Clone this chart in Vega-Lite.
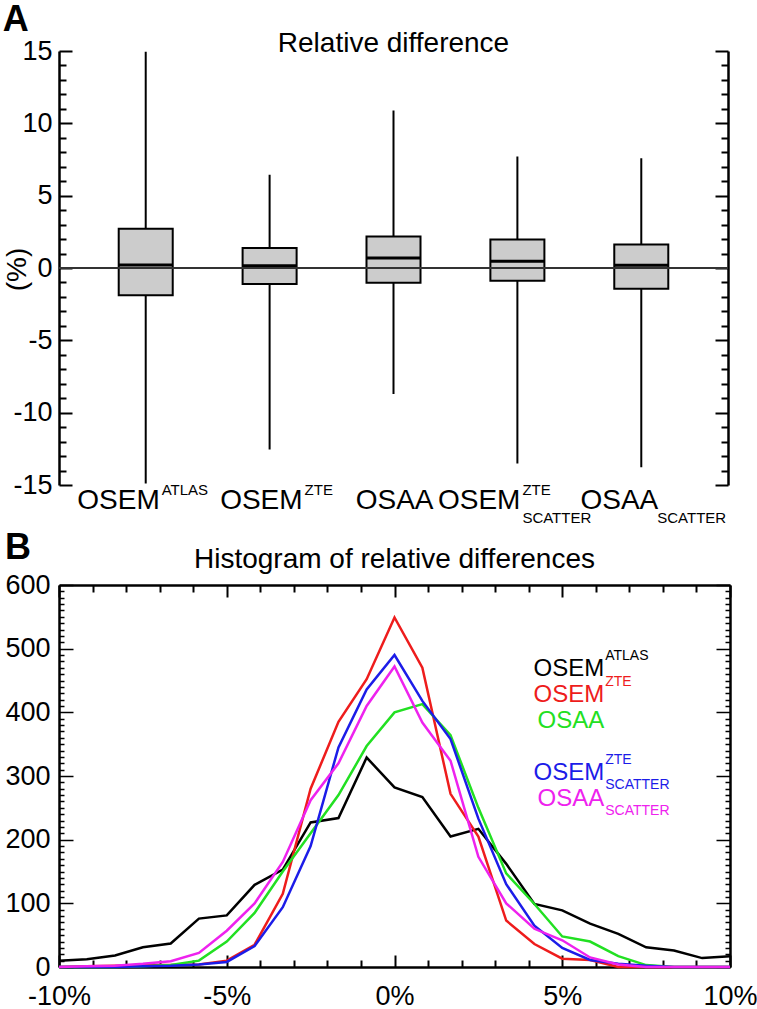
{
  "$schema": "https://vega.github.io/schema/vega-lite/v6.json",
  "autosize": {"type": "pad"},
  "padding": {"left": 2, "top": 2, "right": 0, "bottom": 0},
  "background": "white",
  "spacing": 100,
  "bounds": "flush",
  "config": {
    "view": {"stroke": null},
    "font": "Liberation Sans",
    "axis": {"grid": false, "labelFont": "Liberation Sans", "labelColor": "black", "domainColor": "black", "tickColor": "black", "labelFlush": false, "labelOverlap": false}
  },
  "datasets": {
    "boxes": [
      {"method": "OSEM ATLAS", "main": "OSEM", "sup": "ATLAS", "sub": "", "lo": -14.9, "q1": -1.89, "med": 0.2, "q3": 2.72, "hi": 14.95},
      {"method": "OSEM ZTE", "main": "OSEM", "sup": "ZTE", "sub": "", "lo": -12.55, "q1": -1.11, "med": 0.16, "q3": 1.38, "hi": 6.45},
      {"method": "OSAA", "main": "OSAA", "sup": "", "sub": "", "lo": -8.71, "q1": -1.02, "med": 0.69, "q3": 2.18, "hi": 10.88},
      {"method": "OSEM ZTE SCATTER", "main": "OSEM", "sup": "ZTE", "sub": "SCATTER", "lo": -13.52, "q1": -0.88, "med": 0.46, "q3": 1.97, "hi": 7.7},
      {"method": "OSAA SCATTER", "main": "OSAA", "sup": "", "sub": "SCATTER", "lo": -13.77, "q1": -1.44, "med": 0.19, "q3": 1.62, "hi": 7.59}
    ],
    "legend": [
      {"series": "OSEM ATLAS", "main": "OSEM", "sup": "ATLAS", "sub": ""},
      {"series": "OSEM ZTE", "main": "OSEM", "sup": "ZTE", "sub": ""},
      {"series": "OSAA", "main": "OSAA", "sup": "", "sub": ""},
      {"series": "OSEM ZTE SCATTER", "main": "OSEM", "sup": "ZTE", "sub": "SCATTER"},
      {"series": "OSAA SCATTER", "main": "OSAA", "sup": "", "sub": "SCATTER"}
    ],
    "hist": [
      {"series": "OSEM ATLAS", "x": -10, "count": 10}, {"series": "OSEM ATLAS", "x": -9.17, "count": 12}, {"series": "OSEM ATLAS", "x": -8.33, "count": 18}, {"series": "OSEM ATLAS", "x": -7.5, "count": 31}, {"series": "OSEM ATLAS", "x": -6.67, "count": 37}, {"series": "OSEM ATLAS", "x": -5.83, "count": 76}, {"series": "OSEM ATLAS", "x": -5, "count": 81}, {"series": "OSEM ATLAS", "x": -4.17, "count": 129}, {"series": "OSEM ATLAS", "x": -3.33, "count": 153}, {"series": "OSEM ATLAS", "x": -2.5, "count": 227}, {"series": "OSEM ATLAS", "x": -1.67, "count": 234}, {"series": "OSEM ATLAS", "x": -0.83, "count": 329}, {"series": "OSEM ATLAS", "x": 0, "count": 282}, {"series": "OSEM ATLAS", "x": 0.83, "count": 267}, {"series": "OSEM ATLAS", "x": 1.67, "count": 205}, {"series": "OSEM ATLAS", "x": 2.5, "count": 217}, {"series": "OSEM ATLAS", "x": 3.33, "count": 162}, {"series": "OSEM ATLAS", "x": 4.17, "count": 99}, {"series": "OSEM ATLAS", "x": 5, "count": 89}, {"series": "OSEM ATLAS", "x": 5.83, "count": 68}, {"series": "OSEM ATLAS", "x": 6.67, "count": 52}, {"series": "OSEM ATLAS", "x": 7.5, "count": 31}, {"series": "OSEM ATLAS", "x": 8.33, "count": 26}, {"series": "OSEM ATLAS", "x": 9.17, "count": 14}, {"series": "OSEM ATLAS", "x": 10, "count": 17},
      {"series": "OSEM ZTE", "x": -10, "count": 0}, {"series": "OSEM ZTE", "x": -9.17, "count": 1}, {"series": "OSEM ZTE", "x": -8.33, "count": 2}, {"series": "OSEM ZTE", "x": -7.5, "count": 3}, {"series": "OSEM ZTE", "x": -6.67, "count": 3}, {"series": "OSEM ZTE", "x": -5.83, "count": 4}, {"series": "OSEM ZTE", "x": -5, "count": 10}, {"series": "OSEM ZTE", "x": -4.17, "count": 35}, {"series": "OSEM ZTE", "x": -3.33, "count": 115}, {"series": "OSEM ZTE", "x": -2.5, "count": 280}, {"series": "OSEM ZTE", "x": -1.67, "count": 385}, {"series": "OSEM ZTE", "x": -0.83, "count": 452}, {"series": "OSEM ZTE", "x": 0, "count": 549}, {"series": "OSEM ZTE", "x": 0.83, "count": 470}, {"series": "OSEM ZTE", "x": 1.67, "count": 272}, {"series": "OSEM ZTE", "x": 2.5, "count": 205}, {"series": "OSEM ZTE", "x": 3.33, "count": 73}, {"series": "OSEM ZTE", "x": 4.17, "count": 36}, {"series": "OSEM ZTE", "x": 5, "count": 13}, {"series": "OSEM ZTE", "x": 5.83, "count": 11}, {"series": "OSEM ZTE", "x": 6.67, "count": 0}, {"series": "OSEM ZTE", "x": 7.5, "count": 0}, {"series": "OSEM ZTE", "x": 8.33, "count": 0}, {"series": "OSEM ZTE", "x": 9.17, "count": 0}, {"series": "OSEM ZTE", "x": 10, "count": 0},
      {"series": "OSAA", "x": -10, "count": 0}, {"series": "OSAA", "x": -9.17, "count": 0}, {"series": "OSAA", "x": -8.33, "count": 0}, {"series": "OSAA", "x": -7.5, "count": 1}, {"series": "OSAA", "x": -6.67, "count": 3}, {"series": "OSAA", "x": -5.83, "count": 10}, {"series": "OSAA", "x": -5, "count": 40}, {"series": "OSAA", "x": -4.17, "count": 85}, {"series": "OSAA", "x": -3.33, "count": 150}, {"series": "OSAA", "x": -2.5, "count": 210}, {"series": "OSAA", "x": -1.67, "count": 270}, {"series": "OSAA", "x": -0.83, "count": 347}, {"series": "OSAA", "x": 0, "count": 400}, {"series": "OSAA", "x": 0.83, "count": 413}, {"series": "OSAA", "x": 1.67, "count": 364}, {"series": "OSAA", "x": 2.5, "count": 250}, {"series": "OSAA", "x": 3.33, "count": 147}, {"series": "OSAA", "x": 4.17, "count": 99}, {"series": "OSAA", "x": 5, "count": 48}, {"series": "OSAA", "x": 5.83, "count": 40}, {"series": "OSAA", "x": 6.67, "count": 17}, {"series": "OSAA", "x": 7.5, "count": 3}, {"series": "OSAA", "x": 8.33, "count": 0}, {"series": "OSAA", "x": 9.17, "count": 0}, {"series": "OSAA", "x": 10, "count": 0},
      {"series": "OSEM ZTE SCATTER", "x": -10, "count": 0}, {"series": "OSEM ZTE SCATTER", "x": -9.17, "count": 0}, {"series": "OSEM ZTE SCATTER", "x": -8.33, "count": 0}, {"series": "OSEM ZTE SCATTER", "x": -7.5, "count": 1}, {"series": "OSEM ZTE SCATTER", "x": -6.67, "count": 2}, {"series": "OSEM ZTE SCATTER", "x": -5.83, "count": 4}, {"series": "OSEM ZTE SCATTER", "x": -5, "count": 8}, {"series": "OSEM ZTE SCATTER", "x": -4.17, "count": 33}, {"series": "OSEM ZTE SCATTER", "x": -3.33, "count": 94}, {"series": "OSEM ZTE SCATTER", "x": -2.5, "count": 190}, {"series": "OSEM ZTE SCATTER", "x": -1.67, "count": 345}, {"series": "OSEM ZTE SCATTER", "x": -0.83, "count": 436}, {"series": "OSEM ZTE SCATTER", "x": 0, "count": 490}, {"series": "OSEM ZTE SCATTER", "x": 0.83, "count": 418}, {"series": "OSEM ZTE SCATTER", "x": 1.67, "count": 358}, {"series": "OSEM ZTE SCATTER", "x": 2.5, "count": 233}, {"series": "OSEM ZTE SCATTER", "x": 3.33, "count": 130}, {"series": "OSEM ZTE SCATTER", "x": 4.17, "count": 65}, {"series": "OSEM ZTE SCATTER", "x": 5, "count": 30}, {"series": "OSEM ZTE SCATTER", "x": 5.83, "count": 11}, {"series": "OSEM ZTE SCATTER", "x": 6.67, "count": 5}, {"series": "OSEM ZTE SCATTER", "x": 7.5, "count": 2}, {"series": "OSEM ZTE SCATTER", "x": 8.33, "count": 0}, {"series": "OSEM ZTE SCATTER", "x": 9.17, "count": 0}, {"series": "OSEM ZTE SCATTER", "x": 10, "count": 0},
      {"series": "OSAA SCATTER", "x": -10, "count": 0}, {"series": "OSAA SCATTER", "x": -9.17, "count": 1}, {"series": "OSAA SCATTER", "x": -8.33, "count": 2}, {"series": "OSAA SCATTER", "x": -7.5, "count": 5}, {"series": "OSAA SCATTER", "x": -6.67, "count": 9}, {"series": "OSAA SCATTER", "x": -5.83, "count": 22}, {"series": "OSAA SCATTER", "x": -5, "count": 57}, {"series": "OSAA SCATTER", "x": -4.17, "count": 100}, {"series": "OSAA SCATTER", "x": -3.33, "count": 165}, {"series": "OSAA SCATTER", "x": -2.5, "count": 262}, {"series": "OSAA SCATTER", "x": -1.67, "count": 320}, {"series": "OSAA SCATTER", "x": -0.83, "count": 410}, {"series": "OSAA SCATTER", "x": 0, "count": 472}, {"series": "OSAA SCATTER", "x": 0.83, "count": 384}, {"series": "OSAA SCATTER", "x": 1.67, "count": 324}, {"series": "OSAA SCATTER", "x": 2.5, "count": 173}, {"series": "OSAA SCATTER", "x": 3.33, "count": 100}, {"series": "OSAA SCATTER", "x": 4.17, "count": 60}, {"series": "OSAA SCATTER", "x": 5, "count": 42}, {"series": "OSAA SCATTER", "x": 5.83, "count": 15}, {"series": "OSAA SCATTER", "x": 6.67, "count": 4}, {"series": "OSAA SCATTER", "x": 7.5, "count": 0}, {"series": "OSAA SCATTER", "x": 8.33, "count": 0}, {"series": "OSAA SCATTER", "x": 9.17, "count": 0}, {"series": "OSAA SCATTER", "x": 10, "count": 0}
    ]
  },
  "vconcat": [
    {
      "width": 669,
      "height": 434,
      "data": {"name": "boxes"},
      "layer": [
        {
          "mark": {"type": "rule", "color": "black", "strokeWidth": 2},
          "encoding": {
            "x": {"field": "method", "type": "nominal", "sort": null, "scale": {"type": "band", "paddingInner": 0.564, "paddingOuter": 0.482}, "axis": null},
            "y": {"field": "lo", "type": "quantitative", "scale": {"domain": [-15, 15], "nice": false, "zero": false},
              "axis": {"orient": "left", "values": [-15, -10, -5, 0, 5, 10, 15], "labelExpr": "'' + datum.value", "ticks": false, "labelPadding": 7, "labelFontSize": 27, "domainWidth": 2.5, "title": "(%)", "titleFont": "Liberation Sans", "titleFontSize": 28, "titleFontWeight": "normal", "titleColor": "black", "titleX": -42, "titleY": 218, "titleAngle": -90, "titleAlign": "center", "titleBaseline": "middle"}},
            "y2": {"field": "hi"}
          }
        },
        {
          "mark": {"type": "bar", "fill": "#cccccc", "stroke": "black", "strokeWidth": 2},
          "encoding": {
            "x": {"field": "method", "type": "nominal", "sort": null, "axis": null},
            "y": {"field": "q1", "type": "quantitative",
              "axis": {"orient": "right", "offset": -669, "values": [-15,-14,-13,-12,-11,-10,-9,-8,-7,-6,-5,-4,-3,-2,-1,0,1,2,3,4,5,6,7,8,9,10,11,12,13,14,15], "labels": false, "domain": false, "ticks": true, "tickSize": {"condition": {"test": "datum.value % 5 === 0", "value": 13}, "value": 7}, "tickWidth": 2, "title": null}},
            "y2": {"field": "q3"}
          }
        },
        {
          "mark": {"type": "tick", "color": "black", "thickness": 3, "size": 54, "orient": "horizontal", "opacity": 1},
          "encoding": {
            "x": {"field": "method", "type": "nominal", "sort": null, "axis": null},
            "y": {"field": "med", "type": "quantitative",
              "axis": {"orient": "left", "offset": -669, "values": [-15,-14,-13,-12,-11,-10,-9,-8,-7,-6,-5,-4,-3,-2,-1,0,1,2,3,4,5,6,7,8,9,10,11,12,13,14,15], "labels": false, "domain": false, "ticks": true, "tickSize": {"condition": {"test": "datum.value % 5 === 0", "value": 13}, "value": 7}, "tickWidth": 2, "title": null}}
          }
        },
        {
          "mark": {"type": "rule", "color": "#333333", "strokeWidth": 2, "opacity": 0.7},
          "encoding": {
            "y": {"datum": 0, "type": "quantitative", "axis": {"orient": "right", "domain": true, "domainWidth": 2.5, "ticks": false, "labels": false, "title": null}}
          }
        },
        {
          "mark": {"type": "text", "align": "right", "baseline": "alphabetic", "fontSize": 28, "color": "black", "dy": 24,
            "dx": {"expr": "datum.method === 'OSEM ATLAS' ? 14 : datum.method === 'OSEM ZTE' ? 33 : datum.method === 'OSAA' ? 40 : datum.method === 'OSEM ZTE SCATTER' ? 3 : 17"}},
          "encoding": {
            "x": {"field": "method", "type": "nominal", "sort": null, "bandPosition": 0.5, "axis": null},
            "y": {"datum": -15, "type": "quantitative", "axis": null},
            "text": {"field": "main"}
          }
        },
        {
          "mark": {"type": "text", "align": "left", "baseline": "alphabetic", "fontSize": 15, "color": "black", "dy": 10,
            "dx": {"expr": "datum.method === 'OSEM ATLAS' ? 16 : datum.method === 'OSEM ZTE' ? 35 : datum.method === 'OSEM ZTE SCATTER' ? 5 : 16"}},
          "encoding": {
            "x": {"field": "method", "type": "nominal", "sort": null, "bandPosition": 0.5, "axis": null},
            "y": {"datum": -15, "type": "quantitative", "axis": null},
            "text": {"field": "sup"}
          }
        },
        {
          "mark": {"type": "text", "align": "left", "baseline": "alphabetic", "fontSize": 15, "color": "black", "dy": 38,
            "dx": {"expr": "datum.method === 'OSEM ZTE SCATTER' ? 5 : 16"}},
          "encoding": {
            "x": {"field": "method", "type": "nominal", "sort": null, "bandPosition": 0.5, "axis": null},
            "y": {"datum": -15, "type": "quantitative", "axis": null},
            "text": {"field": "sub"}
          }
        },
        {
          "data": {"values": [{"t": "Relative difference"}]},
          "mark": {"type": "text", "align": "center", "baseline": "alphabetic", "fontSize": 28, "color": "black", "dy": 1},
          "encoding": {
            "x": {"datum": "OSAA", "type": "nominal", "bandPosition": 0.5, "axis": null},
            "y": {"datum": 15, "type": "quantitative", "axis": null},
            "text": {"field": "t"}
          }
        },
        {
          "data": {"values": [{"t": "A"}]},
          "mark": {"type": "text", "align": "center", "baseline": "alphabetic", "fontSize": 36, "fontWeight": "bold", "color": "black", "dx": -130, "dy": -20},
          "encoding": {
            "x": {"datum": "OSEM ATLAS", "type": "nominal", "bandPosition": 0.5, "axis": null},
            "y": {"datum": 15, "type": "quantitative", "axis": null},
            "text": {"field": "t"}
          }
        }
      ],
      "resolve": {"axis": {"y": "independent"}}
    },
    {
      "width": 671,
      "height": 382,
      "layer": [
        {
          "data": {"name": "hist"},
          "mark": {"type": "line", "strokeWidth": 2.5},
          "encoding": {
            "x": {"field": "x", "type": "quantitative", "scale": {"domain": [-10, 10], "nice": false, "zero": false},
              "axis": {"orient": "bottom", "values": [-10, -5, 0, 5, 10], "labelExpr": "datum.value + '%'", "ticks": false, "labelPadding": 16, "labelFontSize": 27, "domainWidth": 2.5, "title": null}},
            "y": {"field": "count", "type": "quantitative", "scale": {"domain": [0, 600], "nice": false},
              "axis": {"orient": "left", "values": [0, 100, 200, 300, 400, 500, 600], "ticks": false, "labelPadding": 9, "labelFontSize": 27, "domainWidth": 2.5, "title": null}},
            "color": {"field": "series", "type": "nominal", "scale": {"domain": ["OSEM ATLAS", "OSEM ZTE", "OSAA", "OSEM ZTE SCATTER", "OSAA SCATTER"], "range": ["#000000", "#ee1c1c", "#22e022", "#1c1ce8", "#ee22ee"]}, "legend": null}
          }
        },
        {
          "data": {"name": "legend"},
          "mark": {"type": "text", "align": "right", "baseline": "alphabetic", "fontSize": 24,
            "dy": {"expr": "indexof(['OSEM ATLAS','OSEM ZTE','OSAA','','OSEM ZTE SCATTER','OSAA SCATTER'], datum.series) * 26"}},
          "encoding": {
            "x": {"datum": 6.25, "type": "quantitative", "axis": {"orient": "top", "labels": false, "ticks": false, "domain": true, "domainWidth": 2.5, "title": null}},
            "y": {"datum": 457, "type": "quantitative", "axis": {"orient": "right", "labels": false, "ticks": false, "domain": true, "domainWidth": 2.5, "title": null}},
            "text": {"field": "main"},
            "color": {"field": "series", "type": "nominal", "legend": null}
          }
        },
        {
          "data": {"name": "legend"},
          "mark": {"type": "text", "align": "left", "baseline": "alphabetic", "fontSize": 14, "dx": 1,
            "dy": {"expr": "indexof(['OSEM ATLAS','OSEM ZTE','OSAA','','OSEM ZTE SCATTER','OSAA SCATTER'], datum.series) * 26 - 16"}},
          "encoding": {
            "x": {"datum": 6.25, "type": "quantitative", "axis": {"orient": "top", "offset": -382, "values": [-10,-9,-8,-7,-6,-5,-4,-3,-2,-1,0,1,2,3,4,5,6,7,8,9,10], "labels": false, "domain": false, "tickSize": {"condition": {"test": "datum.value % 5 === 0", "value": 12}, "value": 7}, "tickWidth": 2, "title": null}},
            "y": {"datum": 457, "type": "quantitative", "axis": {"orient": "right", "offset": -671, "values": [0,10,20,30,40,50,60,70,80,90,100,110,120,130,140,150,160,170,180,190,200,210,220,230,240,250,260,270,280,290,300,310,320,330,340,350,360,370,380,390,400,410,420,430,440,450,460,470,480,490,500,510,520,530,540,550,560,570,580,590,600], "labels": false, "domain": false, "tickSize": {"condition": {"test": "datum.value % 100 === 0", "value": 14}, "value": 5}, "tickWidth": 1.5, "title": null}},
            "text": {"field": "sup"},
            "color": {"field": "series", "type": "nominal", "legend": null}
          }
        },
        {
          "data": {"name": "legend"},
          "mark": {"type": "text", "align": "left", "baseline": "alphabetic", "fontSize": 14, "dx": 1,
            "dy": {"expr": "indexof(['OSEM ATLAS','OSEM ZTE','OSAA','','OSEM ZTE SCATTER','OSAA SCATTER'], datum.series) * 26 + 9"}},
          "encoding": {
            "x": {"datum": 6.25, "type": "quantitative", "axis": {"orient": "bottom", "offset": -382, "values": [-10,-9,-8,-7,-6,-5,-4,-3,-2,-1,0,1,2,3,4,5,6,7,8,9,10], "labels": false, "domain": false, "tickSize": {"condition": {"test": "datum.value % 5 === 0", "value": 12}, "value": 7}, "tickWidth": 2, "title": null}},
            "y": {"datum": 457, "type": "quantitative", "axis": {"orient": "left", "offset": -671, "values": [0,10,20,30,40,50,60,70,80,90,100,110,120,130,140,150,160,170,180,190,200,210,220,230,240,250,260,270,280,290,300,310,320,330,340,350,360,370,380,390,400,410,420,430,440,450,460,470,480,490,500,510,520,530,540,550,560,570,580,590,600], "labels": false, "domain": false, "tickSize": {"condition": {"test": "datum.value % 100 === 0", "value": 14}, "value": 5}, "tickWidth": 1.5, "title": null}},
            "text": {"field": "sub"},
            "color": {"field": "series", "type": "nominal", "legend": null}
          }
        },
        {
          "data": {"values": [{"t": "Histogram of relative differences"}]},
          "mark": {"type": "text", "align": "center", "baseline": "alphabetic", "fontSize": 28, "color": "black", "dy": -17},
          "encoding": {
            "x": {"datum": 0, "type": "quantitative", "axis": null},
            "y": {"datum": 600, "type": "quantitative", "axis": null},
            "text": {"field": "t"}
          }
        },
        {
          "data": {"values": [{"t": "B"}]},
          "mark": {"type": "text", "align": "center", "baseline": "alphabetic", "fontSize": 36, "fontWeight": "bold", "color": "black", "dx": -41, "dy": -26},
          "encoding": {
            "x": {"datum": -10, "type": "quantitative", "axis": null},
            "y": {"datum": 600, "type": "quantitative", "axis": null},
            "text": {"field": "t"}
          }
        }
      ],
      "resolve": {"axis": {"x": "independent", "y": "independent"}}
    }
  ]
}
